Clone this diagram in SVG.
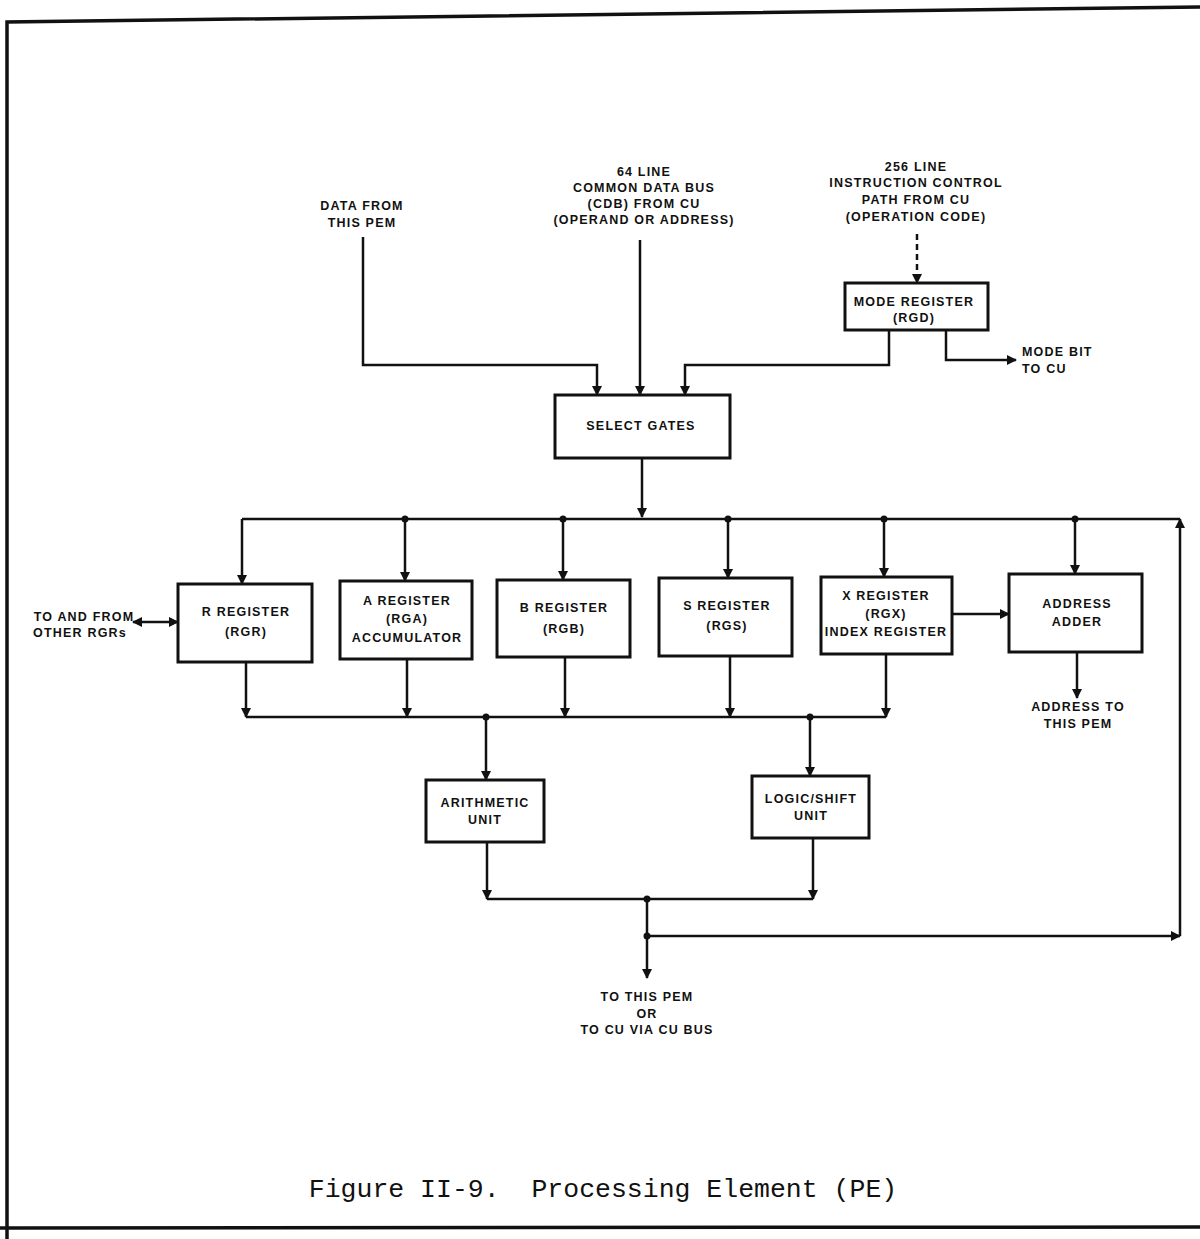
<svg xmlns="http://www.w3.org/2000/svg" width="1200" height="1239" viewBox="0 0 1200 1239">
  <defs>
    <marker id="arrow" viewBox="0 0 10 10" refX="9" refY="5" markerWidth="10" markerHeight="10" markerUnits="userSpaceOnUse" orient="auto-start-reverse">
      <path d="M0,0 L10,5 L0,10 z" fill="#111"/>
    </marker>
    <style>
      .frame { fill: none; stroke: #111; stroke-width: 3.5; }
      .box { fill: #fff; stroke: #111; stroke-width: 3; }
      .wire { fill: none; stroke: #111; stroke-width: 2.5; }
      .dash { stroke-dasharray: 6 4; }
      .dot { fill: #111; }
      .lbl { font-family: "Liberation Sans", Arial, sans-serif; font-weight: bold; font-size: 12.5px; letter-spacing: 1.2px; fill: #111; text-anchor: middle; }
      .start { text-anchor: start; }
      .cap { font-family: "Liberation Mono", "Courier New", monospace; font-size: 26.5px; fill: #111; text-anchor: middle; white-space: pre; }
    </style>
  </defs>

  <rect width="1200" height="1239" fill="#fff"/>

  <!-- page frame -->
  <polyline class="frame" points="7,1239 7,22 1200,7"/>
  <line class="frame" x1="0" y1="1228" x2="1200" y2="1227" stroke-width="3"/>

  <!-- connectors -->
  <g id="connectors">
    <!-- inputs to select gates -->
    <path class="wire" d="M363,237 V365 H597 V395" marker-end="url(#arrow)"/>
    <path class="wire" d="M640,240 V395" marker-end="url(#arrow)"/>
    <path class="wire dash" d="M917,234 V283" marker-end="url(#arrow)"/>
    <path class="wire" d="M889,330 V365 H685 V395" marker-end="url(#arrow)"/>
    <path class="wire" d="M946,330 V360 H1016" marker-end="url(#arrow)"/>

    <!-- select gates to upper bus -->
    <path class="wire" d="M642,458 V517" marker-end="url(#arrow)"/>
    <path class="wire" d="M242,519 H1180"/>
    <path class="wire" d="M242,519 V584" marker-end="url(#arrow)"/>
    <path class="wire" d="M405,519 V581" marker-end="url(#arrow)"/>
    <path class="wire" d="M563,519 V580" marker-end="url(#arrow)"/>
    <path class="wire" d="M728,519 V578" marker-end="url(#arrow)"/>
    <path class="wire" d="M884,519 V577" marker-end="url(#arrow)"/>
    <path class="wire" d="M1075,519 V574" marker-end="url(#arrow)"/>

    <!-- side paths -->
    <path class="wire" d="M133,622 H178" marker-start="url(#arrow)" marker-end="url(#arrow)"/>
    <path class="wire" d="M952,614 H1009" marker-end="url(#arrow)"/>
    <path class="wire" d="M1077,652 V698" marker-end="url(#arrow)"/>

    <!-- register outputs to lower bus -->
    <path class="wire" d="M246,662 V717" marker-end="url(#arrow)"/>
    <path class="wire" d="M246,717 H886"/>
    <path class="wire" d="M407,659 V717" marker-end="url(#arrow)"/>
    <path class="wire" d="M565,657 V717" marker-end="url(#arrow)"/>
    <path class="wire" d="M730,656 V717" marker-end="url(#arrow)"/>
    <path class="wire" d="M886,654 V717" marker-end="url(#arrow)"/>

    <!-- lower bus to units -->
    <path class="wire" d="M486,717 V780" marker-end="url(#arrow)"/>
    <path class="wire" d="M810,717 V776" marker-end="url(#arrow)"/>

    <!-- unit outputs -->
    <path class="wire" d="M487,842 V899" marker-end="url(#arrow)"/>
    <path class="wire" d="M813,838 V899" marker-end="url(#arrow)"/>
    <path class="wire" d="M487,899 H813"/>
    <path class="wire" d="M647,899 V978" marker-end="url(#arrow)"/>
    <path class="wire" d="M647,936 H1180" marker-end="url(#arrow)"/>
    <path class="wire" d="M1180,936 V519" marker-end="url(#arrow)"/>

    <!-- junction dots -->
    <circle class="dot" cx="405" cy="519" r="3.5"/>
    <circle class="dot" cx="563" cy="519" r="3.5"/>
    <circle class="dot" cx="728" cy="519" r="3.5"/>
    <circle class="dot" cx="884" cy="519" r="3.5"/>
    <circle class="dot" cx="1075" cy="519" r="3.5"/>
    <circle class="dot" cx="486" cy="717" r="3.5"/>
    <circle class="dot" cx="810" cy="717" r="3.5"/>
    <circle class="dot" cx="647" cy="899" r="3.5"/>
    <circle class="dot" cx="647" cy="936" r="3.5"/>
  </g>

  <!-- free labels -->
  <g id="label-data-from-pem">
    <text class="lbl" x="362" y="210">DATA FROM</text>
    <text class="lbl" x="362" y="227">THIS PEM</text>
  </g>
  <g id="label-cdb">
    <text class="lbl" x="644" y="176">64 LINE</text>
    <text class="lbl" x="644" y="192">COMMON DATA BUS</text>
    <text class="lbl" x="644" y="208">(CDB) FROM CU</text>
    <text class="lbl" x="644" y="224">(OPERAND OR ADDRESS)</text>
  </g>
  <g id="label-icp">
    <text class="lbl" x="916" y="171">256 LINE</text>
    <text class="lbl" x="916" y="187">INSTRUCTION CONTROL</text>
    <text class="lbl" x="916" y="204">PATH FROM CU</text>
    <text class="lbl" x="916" y="221">(OPERATION CODE)</text>
  </g>
  <g id="label-mode-bit">
    <text class="lbl start" x="1022" y="356">MODE BIT</text>
    <text class="lbl start" x="1022" y="373">TO CU</text>
  </g>
  <g id="label-other-rgrs">
    <text class="lbl" x="84" y="621">TO AND FROM</text>
    <text class="lbl" x="80" y="637">OTHER RGRs</text>
  </g>
  <g id="label-address-out">
    <text class="lbl" x="1078" y="711">ADDRESS TO</text>
    <text class="lbl" x="1078" y="728">THIS PEM</text>
  </g>
  <g id="label-output">
    <text class="lbl" x="647" y="1001">TO THIS PEM</text>
    <text class="lbl" x="647" y="1018">OR</text>
    <text class="lbl" x="647" y="1034">TO CU VIA CU BUS</text>
  </g>

  <!-- nodes -->
  <g id="mode-register">
    <rect class="box" x="845" y="283" width="143" height="47"/>
    <text class="lbl" x="914" y="306">MODE REGISTER</text>
    <text class="lbl" x="914" y="322">(RGD)</text>
  </g>
  <g id="select-gates">
    <rect class="box" x="555" y="395" width="175" height="63"/>
    <text class="lbl" x="641" y="430">SELECT GATES</text>
  </g>
  <g id="r-register">
    <rect class="box" x="178" y="584" width="134" height="78"/>
    <text class="lbl" x="246" y="616">R REGISTER</text>
    <text class="lbl" x="246" y="636">(RGR)</text>
  </g>
  <g id="a-register">
    <rect class="box" x="340" y="581" width="132" height="78"/>
    <text class="lbl" x="407" y="605">A REGISTER</text>
    <text class="lbl" x="407" y="623">(RGA)</text>
    <text class="lbl" x="407" y="642">ACCUMULATOR</text>
  </g>
  <g id="b-register">
    <rect class="box" x="497" y="580" width="133" height="77"/>
    <text class="lbl" x="564" y="612">B REGISTER</text>
    <text class="lbl" x="564" y="633">(RGB)</text>
  </g>
  <g id="s-register">
    <rect class="box" x="659" y="578" width="133" height="78"/>
    <text class="lbl" x="727" y="610">S REGISTER</text>
    <text class="lbl" x="727" y="630">(RGS)</text>
  </g>
  <g id="x-register">
    <rect class="box" x="821" y="577" width="131" height="77"/>
    <text class="lbl" x="886" y="600">X REGISTER</text>
    <text class="lbl" x="886" y="618">(RGX)</text>
    <text class="lbl" x="886" y="636">INDEX REGISTER</text>
  </g>
  <g id="address-adder">
    <rect class="box" x="1009" y="574" width="133" height="78"/>
    <text class="lbl" x="1077" y="608">ADDRESS</text>
    <text class="lbl" x="1077" y="626">ADDER</text>
  </g>
  <g id="arithmetic-unit">
    <rect class="box" x="426" y="780" width="118" height="62"/>
    <text class="lbl" x="485" y="807">ARITHMETIC</text>
    <text class="lbl" x="485" y="824">UNIT</text>
  </g>
  <g id="logic-shift-unit">
    <rect class="box" x="752" y="776" width="117" height="62"/>
    <text class="lbl" x="811" y="803">LOGIC/SHIFT</text>
    <text class="lbl" x="811" y="820">UNIT</text>
  </g>

  <!-- caption -->
  <text class="cap" x="603" y="1197" xml:space="preserve">Figure II-9.  Processing Element (PE)</text>
</svg>
